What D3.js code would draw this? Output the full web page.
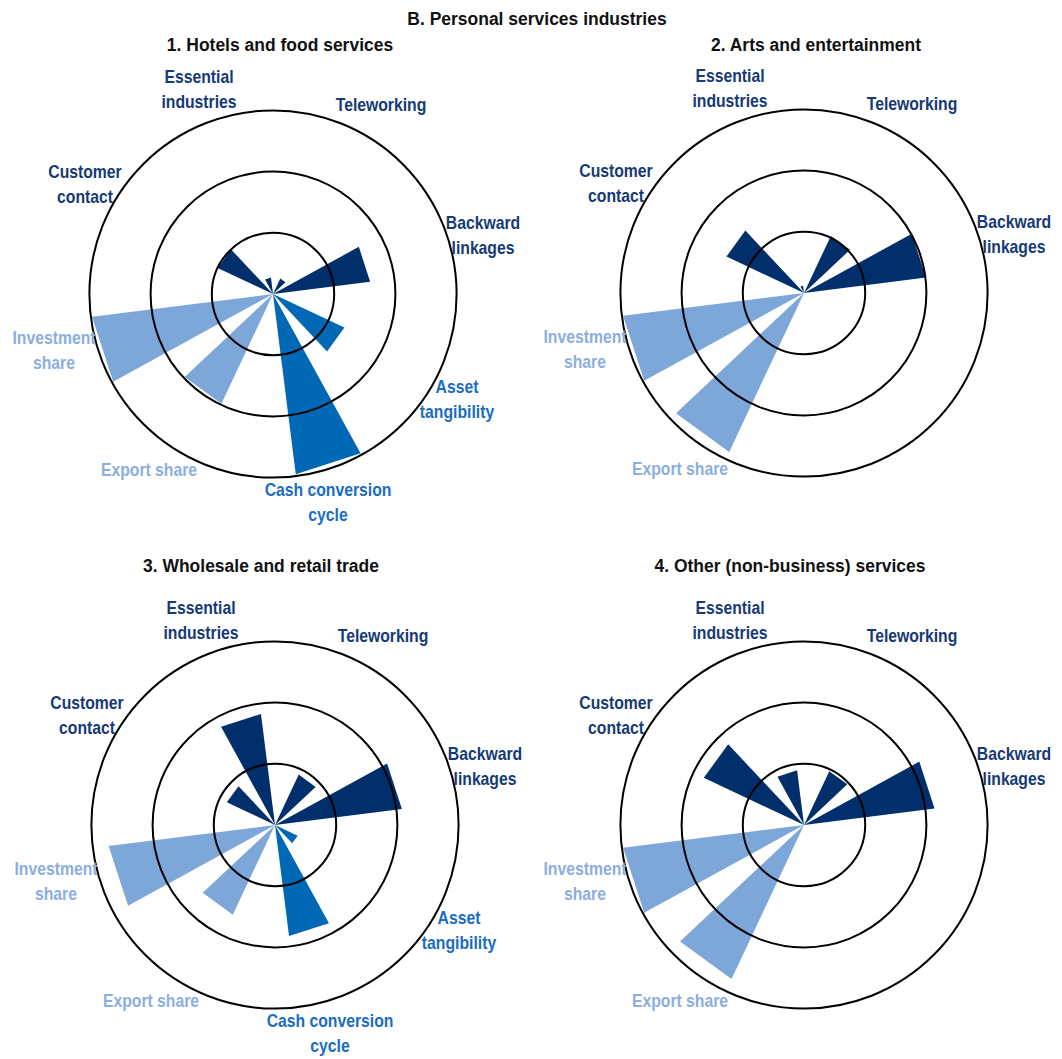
<!DOCTYPE html>
<html>
<head>
<meta charset="utf-8">
<script src="https://cdn.jsdelivr.net/npm/d3@7/dist/d3.min.js"></script>
<style>
  html, body { margin: 0; padding: 0; background: #ffffff; }
  svg { display: block; }
  text { font-family: "Liberation Sans", Arial, Helvetica, sans-serif; font-weight: bold; }
</style>
</head>
<body>
<div id="chart"></div>
<script>
// Exposure indicators, clockwise from the top
const categories = [
  "Teleworking",
  "Backward linkages",
  "Asset tangibility",
  "Cash conversion cycle",
  "Export share",
  "Investment share",
  "Customer contact",
  "Essential industries"
];

// Indicator groups (drive the colour of wedges and labels)
const groups = ["dark", "dark", "mid", "mid", "light", "light", "dark", "dark"];

// Panel titles
const panelTitles = [
  "1. Hotels and food services",
  "2. Arts and entertainment",
  "3. Wholesale and retail trade",
  "4. Other (non-business) services"
];

// Scores per industry (null = indicator not available)
const hotelsFood    = [0.28, 1.60, 1.29, 2.97, 1.98, 2.98, 1.00, 0.27];
const artsEnt       = [1.03, 2.01, null, null, 2.87, 2.98, 1.40, 0.12];
const wholesaleRet  = [0.91, 2.09, 0.41, 1.83, 1.62, 2.74, 0.87, 1.83];
const otherServices = [0.97, 2.15, null, null, 2.78, 2.98, 1.81, 0.90];

// Reference rings
const ringValues = [1, 2, 3];

const mainTitle = "B. Personal services industries";

// ---- layout ----
const W = 1062, H = 1059;
const colors = { dark: "#002f6c", mid: "#0068b5", light: "#7ea7d9" };
const textColors = { dark: "#163a75", mid: "#1a6dc0", light: "#8caedf" };

const panels = [
  { values: hotelsFood,    cx: 273, cy: 294, titleX: 280, titleY: 51 },
  { values: artsEnt,       cx: 804, cy: 293, titleX: 816, titleY: 51 },
  { values: wholesaleRet,  cx: 275, cy: 825, titleX: 261, titleY: 572 },
  { values: otherServices, cx: 804, cy: 825, titleX: 790, titleY: 572 }
];

// Angular slot (out of 20) for each indicator
const slots = [2, 4, 7, 9, 12, 14, 17, 19];
const angle = d3.scaleLinear().domain([0, 20]).range([0, 2 * Math.PI]);
const halfWidth = angle(0.6);

const r = d3.scaleLinear().domain([0, 3]).range([0, 183.6]);

// Label anchors relative to panel centre (first baseline)
const labelLayout = [
  { dx: 108,  dy: -183 },
  { dx: 210,  dy: -65 },
  { dx: 184,  dy: 99 },
  { dx: 55,   dy: 202 },
  { dx: -124, dy: 182 },
  { dx: -219, dy: 50 },
  { dx: -188, dy: -116 },
  { dx: -74,  dy: -211 }
];
const labelLines = [
  ["Teleworking"],
  ["Backward", "linkages"],
  ["Asset", "tangibility"],
  ["Cash conversion", "cycle"],
  ["Export share"],
  ["Investment", "share"],
  ["Customer", "contact"],
  ["Essential", "industries"]
];

const svg = d3.select("#chart").append("svg")
  .attr("width", W).attr("height", H);

svg.append("text")
  .attr("transform", `translate(537,25) scale(0.92,1)`)
  .attr("text-anchor", "middle")
  .attr("font-size", 19)
  .attr("fill", "#111")
  .text(mainTitle);

const wedge = d3.lineRadial()
  .angle(d => d[0])
  .radius(d => d[1])
  .curve(d3.curveLinearClosed);

panels.forEach((p, pi) => {
  const g = svg.append("g").attr("transform", `translate(${p.cx},${p.cy})`);

  // wedges
  categories.forEach((c, i) => {
    const v = p.values[i];
    if (v == null || v <= 0) return;
    const a = angle(slots[i]);
    g.append("path")
      .attr("d", wedge([[0, 0], [a - halfWidth, r(v)], [a + halfWidth, r(v)]]))
      .attr("fill", colors[groups[i]]);
  });

  // rings on top
  g.selectAll("circle.ring").data(ringValues).enter().append("circle")
    .attr("class", "ring")
    .attr("r", d => r(d))
    .attr("fill", "none")
    .attr("stroke", "#000")
    .attr("stroke-width", 2);

  // indicator labels
  categories.forEach((c, i) => {
    if (p.values[i] == null) return;
    const L = labelLayout[i];
    labelLines[i].forEach((line, li) => {
      g.append("text")
        .attr("transform", `translate(${L.dx},${L.dy + li * 24.5}) scale(0.9,1)`)
        .attr("text-anchor", "middle")
        .attr("font-size", 17.5)
        .attr("fill", textColors[groups[i]])
        .text(line);
    });
  });

  // panel title
  svg.append("text")
    .attr("transform", `translate(${p.titleX},${p.titleY}) scale(0.92,1)`)
    .attr("text-anchor", "middle")
    .attr("font-size", 19)
    .attr("fill", "#111")
    .text(panelTitles[pi]);
});
</script>
</body>
</html>
